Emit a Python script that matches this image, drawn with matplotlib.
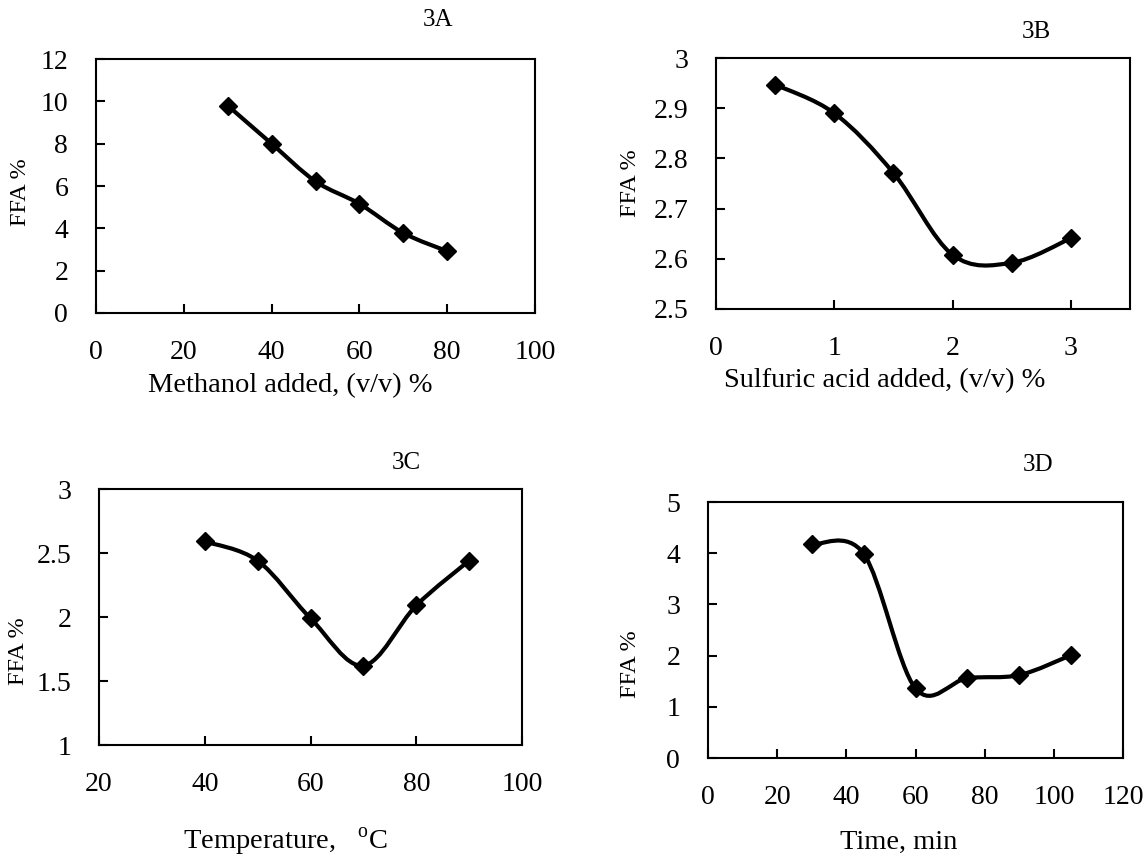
import numpy as np
import matplotlib
matplotlib.use('Agg')
from matplotlib import pyplot as plt
from matplotlib.path import Path
from matplotlib.patches import PathPatch
from matplotlib.ticker import MultipleLocator, FuncFormatter

"""
FFA % versus reaction conditions (panels 3A-3D)
"""

plt.rcParams['font.family'] = ['Liberation Serif', 'DejaVu Serif']
plt.rcParams['mathtext.fontset'] = 'custom'
plt.rcParams['mathtext.rm'] = 'Liberation Serif'

# 3A: methanol added
methanol = [30, 40, 50, 60, 70, 80]
ffa_methanol = [9.8, 8.0, 6.22, 5.16, 3.78, 2.92]

# 3B: sulfuric acid added
acid = [0.5, 1.0, 1.5, 2.0, 2.5, 3.0]
ffa_acid = [2.947, 2.89, 2.771, 2.608, 2.592, 2.641]

# 3C: temperature
temperature = [40, 50, 60, 70, 80, 90]
ffa_temperature = [2.59, 2.44, 1.99, 1.62, 2.09, 2.44]

# 3D: time
time_min = [30, 45, 60, 75, 90, 105]
ffa_time = [4.17, 3.99, 1.36, 1.56, 1.62, 2.01]

W, H = 1147, 863


def smooth_path(x, y):
    """
    Excel-like smoothed line: cubic bezier through the points
    with Catmull-Rom tangents
    """
    pts = np.column_stack([x, y]).astype(float)
    n = len(pts)
    verts = [pts[0]]
    codes = [Path.MOVETO]
    for i in range(n - 1):
        p_prev = pts[max(i - 1, 0)]
        p_next2 = pts[min(i + 2, n - 1)]
        c1 = pts[i] + (pts[i + 1] - p_prev) / 6.0
        c2 = pts[i + 1] - (p_next2 - pts[i]) / 6.0
        verts += [c1, c2, pts[i + 1]]
        codes += [Path.CURVE4] * 3
    return Path(verts, codes)


def fmt(v, pos):
    return '%g' % round(v, 3)


def make_panel(rect, x, y, xlim, xstep, ylim, ystep):
    left, top, right, bottom = rect
    ax = fig.add_axes([left / W, 1 - bottom / H, (right - left) / W,
                       (bottom - top) / H])
    ax.add_patch(PathPatch(smooth_path(x, y), facecolor='none',
                           edgecolor='black', lw=3.0, zorder=2))
    ax.plot(x, y, linestyle='none', marker='D', markersize=9.5,
            color='black', zorder=3)
    ax.set_xlim(*xlim)
    ax.set_ylim(*ylim)
    ax.xaxis.set_major_locator(MultipleLocator(xstep))
    ax.yaxis.set_major_locator(MultipleLocator(ystep))
    ax.xaxis.set_major_formatter(FuncFormatter(fmt))
    ax.yaxis.set_major_formatter(FuncFormatter(fmt))
    for s in ax.spines.values():
        s.set_linewidth(1.5)
    ax.tick_params(direction='in', length=6.5, width=1.5, labelsize=20)
    ax.tick_params(axis='y', pad=20)
    ax.tick_params(axis='x', pad=19.5)
    return ax


def ftext(px, py, s, size, **kw):
    fig.text(px / W, 1 - py / H, s, fontsize=size, ha='center',
             va='center', **kw)


fig = plt.figure(figsize=(W / 100, H / 100), dpi=100)

make_panel((96, 59, 535, 313), methanol, ffa_methanol, (0, 100), 20,
           (0, 12), 2)
make_panel((716, 58, 1130, 309), acid, ffa_acid, (0, 3.5), 1,
           (2.5, 3.0), 0.1)
make_panel((99, 489, 522, 745), temperature, ffa_temperature, (20, 100), 20,
           (1, 3), 0.5)
make_panel((708, 502, 1123, 758), time_min, ffa_time, (0, 120), 20,
           (0, 5), 1)

# panel tags
ftext(438, 20, '3A', 18)
ftext(1036, 32, '3B', 18)
ftext(406, 463, '3C', 18)
ftext(1038, 465, '3D', 18)

# axis titles
ftext(290, 386, 'Methanol added, (v/v) %', 20.5)
ftext(885, 381, 'Sulfuric acid added, (v/v) %', 20.5)
ftext(285, 842, 'Temperature,   $^{\\mathrm{o}}$C', 20.5)
ftext(899, 842, 'Time, min', 20.5)

ftext(20, 192, 'FFA %', 17.5, rotation=90)
ftext(631, 183, 'FFA %', 17.5, rotation=90)
ftext(18, 651, 'FFA %', 17.5, rotation=90)
ftext(631, 664, 'FFA %', 17.5, rotation=90)

plt.savefig('out.png', dpi=100)
